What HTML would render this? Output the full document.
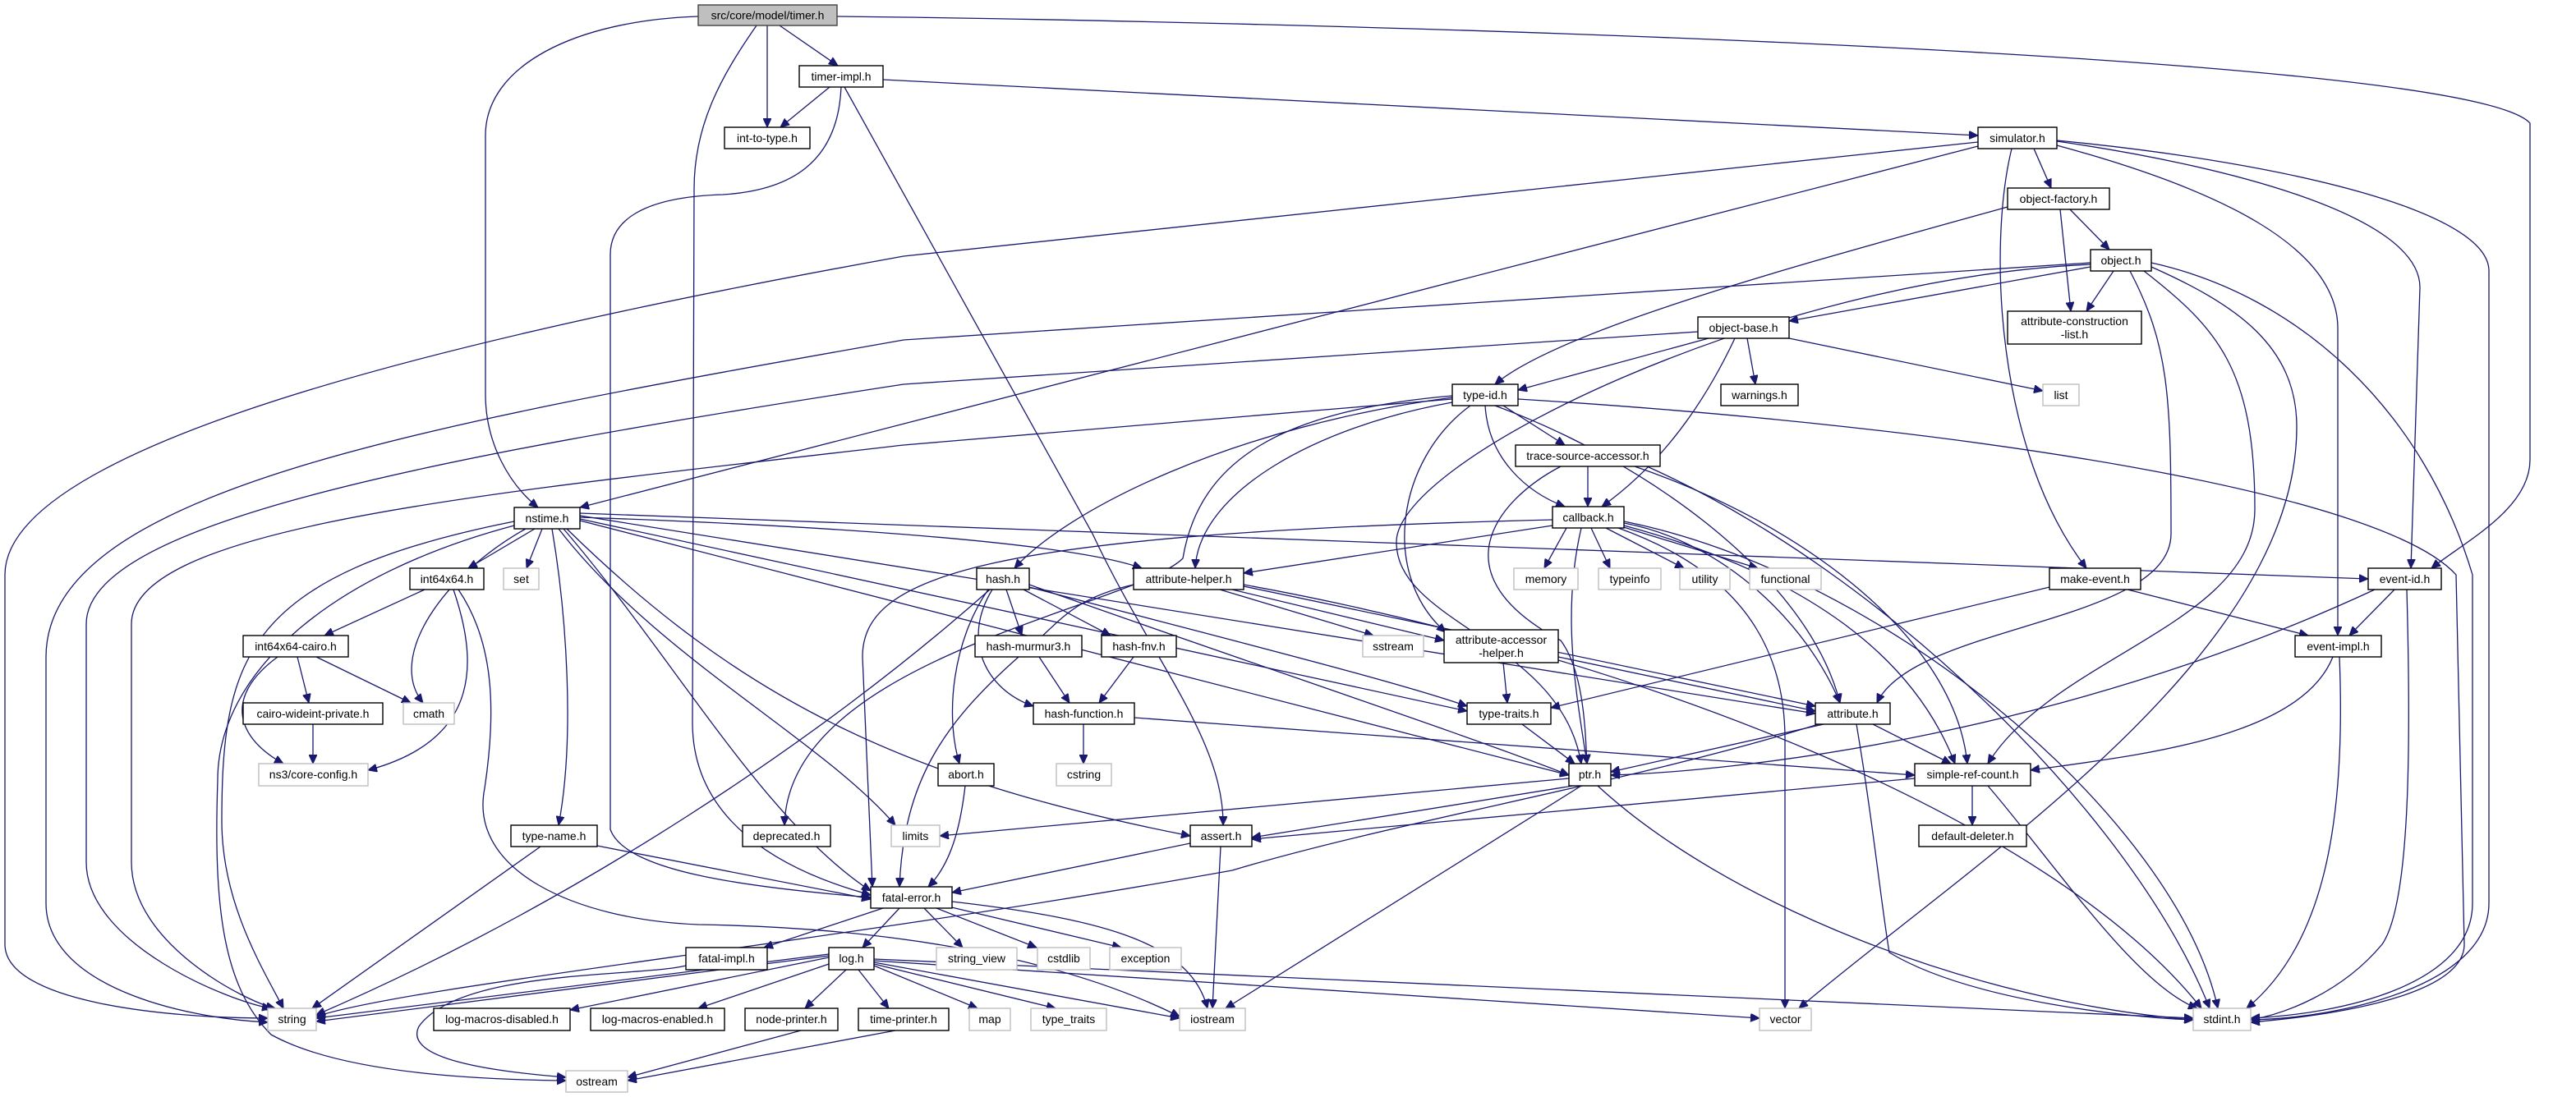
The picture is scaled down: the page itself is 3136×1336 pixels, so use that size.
<!DOCTYPE html>
<html><head><meta charset="utf-8"><style>
html,body{margin:0;padding:0;background:#fff;}
svg{display:block;}
text{font-family:"Liberation Sans",sans-serif;font-size:14px;fill:#000;text-anchor:middle;}
.e{fill:none;stroke:#191970;stroke-width:1.3;marker-end:url(#a);}
.n{fill:#fff;stroke:#000;stroke-width:1.4;}
.g{fill:#fff;stroke:#bfbfbf;stroke-width:1.4;}
</style></head><body>
<svg width="3136" height="1336" viewBox="0 0 3136 1336" xmlns="http://www.w3.org/2000/svg">
<defs><marker id="a" markerUnits="userSpaceOnUse" markerWidth="12" markerHeight="10" refX="11" refY="5" orient="auto"><path d="M0,0 L11,5 L0,10 z" fill="#191970" stroke="#191970"/></marker></defs>
<g>
<path class="e" d="M934,31 L934,155"/>
<path class="e" d="M949,31 L1020,80"/>
<path class="e" d="M850,20 C700,25 591,80 591,165 L591,480 C591,540 620,590 655,618"/>
<path class="e" d="M921,31 C880,90 845,150 845,230 L843,880 C843,1000 950,1060 1060,1090"/>
<path class="e" d="M1019,20 C1500,25 3000,60 3080,150 L3080,560 C3080,620 3000,660 2960,692"/>
<path class="e" d="M1010,106 L950,155"/>
<path class="e" d="M1075,97 L2408,165"/>
<path class="e" d="M1024,106 C1020,200 960,232 880,237 C780,240 743,270 743,310 L743,1010 C760,1060 900,1080 1060,1093"/>
<path class="e" d="M1028,106 L1330,650 C1400,800 1490,900 1489,1005"/>
<path class="e" d="M2476,181 L2497,229"/>
<path class="e" d="M2408,178 L706,618"/>
<path class="e" d="M2408,173 L1100,312 C500,420 6,550 6,700 L6,1150 C6,1220 200,1240 326,1240"/>
<path class="e" d="M2449,181 C2420,300 2430,550 2540,692"/>
<path class="e" d="M2504,177 C2700,230 2846,300 2846,400 L2846,774"/>
<path class="e" d="M2504,172 C2700,200 2946,260 2946,350 L2935,692"/>
<path class="e" d="M2504,171 C2800,200 3030,260 3030,330 L3030,1100 C3030,1200 2850,1240 2740,1242"/>
<path class="e" d="M2444,252 C2200,320 1900,400 1820,468"/>
<path class="e" d="M2520,255 L2568,304"/>
<path class="e" d="M2508,255 L2521,379"/>
<path class="e" d="M2545,325 L2178,391"/>
<path class="e" d="M2573,330 L2540,379"/>
<path class="e" d="M2545,320 L1100,414 C500,520 56,600 56,800 L56,1100 C56,1200 220,1240 326,1245"/>
<path class="e" d="M2545,322 C2150,340 1700,560 1700,660 C1700,760 1900,780 1925,930"/>
<path class="e" d="M2593,330 C2640,420 2643,480 2643,650 C2643,760 2330,760 2285,856"/>
<path class="e" d="M2610,330 C2700,400 2745,450 2745,620 C2745,760 2500,800 2420,930"/>
<path class="e" d="M2619,325 C2720,370 2796,420 2796,520 C2796,800 2400,1050 2190,1228"/>
<path class="e" d="M2619,320 C2800,360 2950,500 3010,700 L3010,1100 C3010,1200 2850,1235 2740,1240"/>
<path class="e" d="M2080,412 L1848,475"/>
<path class="e" d="M2127,412 L2137,468"/>
<path class="e" d="M2178,412 L2487,476"/>
<path class="e" d="M2112,412 C2080,480 2030,560 1950,617"/>
<path class="e" d="M2067,404 L1100,468 C500,560 105,640 105,760 L105,1050 C105,1150 280,1220 330,1228"/>
<path class="e" d="M1830,494 L1905,542"/>
<path class="e" d="M1808,494 C1812,560 1860,600 1905,617"/>
<path class="e" d="M1768,484 C1500,520 1300,620 1235,692"/>
<path class="e" d="M1768,490 C1600,520 1460,600 1455,692"/>
<path class="e" d="M1768,482 C1560,500 1460,560 1440,680 C1380,740 960,800 955,1005"/>
<path class="e" d="M1768,486 L1100,542 C600,600 160,640 160,760 L160,1050 C160,1150 300,1220 335,1228"/>
<path class="e" d="M1790,494 C1700,560 1680,700 1760,770"/>
<path class="e" d="M1820,494 C2000,560 2200,700 2240,856"/>
<path class="e" d="M1848,486 C2400,520 2900,600 2990,700 L3000,1150 C3000,1220 2800,1240 2740,1245"/>
<path class="e" d="M1933,568 L1933,617"/>
<path class="e" d="M1900,568 C1820,610 1750,700 1900,780 C1930,820 1930,900 1932,930"/>
<path class="e" d="M1990,568 C2200,640 2380,780 2395,930"/>
<path class="e" d="M2005,568 C2300,700 2600,1000 2690,1228"/>
<path class="e" d="M1907,643 L1880,692"/>
<path class="e" d="M1937,643 L1960,692"/>
<path class="e" d="M1955,643 L2050,692"/>
<path class="e" d="M1970,640 L2140,692"/>
<path class="e" d="M1890,640 L1514,698"/>
<path class="e" d="M1890,633 C1200,650 1050,700 1050,800 L1062,1080"/>
<path class="e" d="M1977,637 C2100,660 2200,760 2240,856"/>
<path class="e" d="M1925,643 C1900,750 1920,850 1932,930"/>
<path class="e" d="M1977,640 C2200,700 2330,800 2380,930"/>
<path class="e" d="M1970,643 C2130,700 2173,800 2173,900 L2173,1228"/>
<path class="e" d="M1977,635 C2300,700 2650,1000 2700,1228"/>
<path class="e" d="M651,644 L570,692"/>
<path class="e" d="M660,644 L641,692"/>
<path class="e" d="M672,644 C690,750 700,900 680,1005"/>
<path class="e" d="M640,644 C540,700 470,800 515,856"/>
<path class="e" d="M626,635 C300,700 270,800 270,1000 C270,1100 320,1180 345,1228"/>
<path class="e" d="M626,640 C400,700 265,820 265,950 C260,1100 270,1200 330,1260 C420,1310 600,1315 689,1316"/>
<path class="e" d="M680,644 C800,800 1000,900 1090,1005"/>
<path class="e" d="M690,644 C900,850 1100,950 1449,1018"/>
<path class="e" d="M686,644 C820,800 930,1000 1060,1085"/>
<path class="e" d="M706,630 C1000,640 1300,660 1390,692"/>
<path class="e" d="M706,625 L2883,705"/>
<path class="e" d="M706,628 L2210,869"/>
<path class="e" d="M706,632 L1786,866"/>
<path class="e" d="M706,634 L1910,944"/>
<path class="e" d="M517,718 L395,774"/>
<path class="e" d="M552,718 C580,800 590,900 448,938"/>
<path class="e" d="M558,718 C600,780 605,860 590,960 C570,1060 700,1120 850,1126 C1100,1130 1300,1170 1436,1238"/>
<path class="e" d="M362,800 L376,856"/>
<path class="e" d="M385,800 L500,856"/>
<path class="e" d="M338,800 C270,850 290,900 345,930"/>
<path class="e" d="M381,882 L381,930"/>
<path class="e" d="M727,1030 L1060,1095"/>
<path class="e" d="M658,1031 L380,1228"/>
<path class="e" d="M1225,718 L1244,774"/>
<path class="e" d="M1246,718 L1352,774"/>
<path class="e" d="M1208,718 C1170,780 1200,840 1258,860"/>
<path class="e" d="M1205,718 C1000,900 700,1100 385,1236"/>
<path class="e" d="M1253,712 C1500,800 1800,900 1910,944"/>
<path class="e" d="M1253,715 C1500,780 1700,830 1786,860"/>
<path class="e" d="M1203,718 C1160,780 1150,870 1168,930"/>
<path class="e" d="M1265,800 L1302,856"/>
<path class="e" d="M1380,800 L1338,856"/>
<path class="e" d="M1319,882 L1319,930"/>
<path class="e" d="M1381,874 L2331,944"/>
<path class="e" d="M1485,718 L1672,774"/>
<path class="e" d="M1500,718 L1758,780"/>
<path class="e" d="M1514,714 L2210,860"/>
<path class="e" d="M1380,712 C1300,730 1290,760 1240,800 C1150,880 1100,950 1095,1080"/>
<path class="e" d="M1514,712 C2000,800 2500,1000 2680,1228"/>
<path class="e" d="M1830,807 L1835,856"/>
<path class="e" d="M1897,800 L2210,866"/>
<path class="e" d="M1853,882 L1917,930"/>
<path class="e" d="M2495,715 L1888,862"/>
<path class="e" d="M2590,718 L2810,774"/>
<path class="e" d="M2915,718 L2860,774"/>
<path class="e" d="M2891,718 C2500,900 2100,940 1961,944"/>
<path class="e" d="M2930,718 C2935,900 2935,1100 2900,1150 C2850,1210 2780,1235 2740,1242"/>
<path class="e" d="M2840,800 C2800,900 2600,920 2472,938"/>
<path class="e" d="M2848,800 C2856,1000 2830,1150 2735,1228"/>
<path class="e" d="M2280,882 L2375,930"/>
<path class="e" d="M2220,882 L1961,940"/>
<path class="e" d="M2220,880 C2000,950 1700,1000 1500,1060 C1000,1150 500,1200 385,1238"/>
<path class="e" d="M2260,882 C2280,1000 2290,1100 2300,1160 C2400,1220 2600,1240 2670,1242"/>
<path class="e" d="M1915,957 L1524,1020"/>
<path class="e" d="M1910,948 L1144,1018"/>
<path class="e" d="M1925,957 L1492,1228"/>
<path class="e" d="M1945,957 C2100,1100 2400,1220 2670,1242"/>
<path class="e" d="M2401,957 L2401,1005"/>
<path class="e" d="M2331,948 L1524,1022"/>
<path class="e" d="M2420,957 C2500,1050 2600,1200 2675,1228"/>
<path class="e" d="M1449,1027 L1159,1087"/>
<path class="e" d="M1486,1031 L1476,1228"/>
<path class="e" d="M1175,957 C1170,1000 1160,1050 1130,1080"/>
<path class="e" d="M1075,1106 L930,1154"/>
<path class="e" d="M1095,1106 L1050,1154"/>
<path class="e" d="M1125,1106 L1172,1154"/>
<path class="e" d="M1140,1106 L1262,1154"/>
<path class="e" d="M1150,1103 L1365,1154"/>
<path class="e" d="M1159,1098 C1350,1120 1450,1150 1470,1228"/>
<path class="e" d="M835,1176 C780,1190 560,1180 510,1250 C490,1290 600,1305 689,1312"/>
<path class="e" d="M1009,1162 L385,1240"/>
<path class="e" d="M1009,1164 L385,1244"/>
<path class="e" d="M1009,1166 L694,1230"/>
<path class="e" d="M1015,1172 L850,1228"/>
<path class="e" d="M1030,1181 L980,1228"/>
<path class="e" d="M1045,1181 L1082,1228"/>
<path class="e" d="M1064,1176 L1190,1228"/>
<path class="e" d="M1064,1174 L1285,1228"/>
<path class="e" d="M1064,1172 L1436,1240"/>
<path class="e" d="M1064,1170 L2142,1240"/>
<path class="e" d="M1064,1168 L2670,1240"/>
<path class="e" d="M975,1255 L764,1312"/>
<path class="e" d="M1090,1255 L764,1316"/>
</g>
<g>
<rect x="850" y="6" width="169" height="25" fill="#bfbfbf" stroke="#404040" stroke-width="1.4"/><text x="934.5" y="23.5">src/core/model/timer.h</text>
<rect class="n" x="973" y="80" width="102" height="26"/><text x="1024" y="98">timer-impl.h</text>
<rect class="n" x="882" y="155" width="104" height="26"/><text x="934" y="173">int-to-type.h</text>
<rect class="n" x="2408" y="155" width="96" height="26"/><text x="2456" y="173">simulator.h</text>
<rect class="n" x="2444" y="229" width="124" height="26"/><text x="2506" y="247">object-factory.h</text>
<rect class="n" x="2545" y="304" width="74" height="26"/><text x="2582" y="322">object.h</text>
<rect class="n" x="2444" y="379" width="163" height="40"/><text x="2525.5" y="396">attribute-construction</text><text x="2525.5" y="412">-list.h</text>
<rect class="n" x="2067" y="386" width="111" height="26"/><text x="2122.5" y="404">object-base.h</text>
<rect class="n" x="2095" y="468" width="94" height="26"/><text x="2142" y="486">warnings.h</text>
<rect class="g" x="2487" y="468" width="44" height="26"/><text x="2509" y="486">list</text>
<rect class="n" x="1768" y="468" width="80" height="26"/><text x="1808" y="486">type-id.h</text>
<rect class="n" x="1845" y="542" width="176" height="26"/><text x="1933" y="560">trace-source-accessor.h</text>
<rect class="n" x="1890" y="617" width="87" height="26"/><text x="1933.5" y="635">callback.h</text>
<rect class="n" x="626" y="618" width="80" height="26"/><text x="666" y="636">nstime.h</text>
<rect class="n" x="499" y="692" width="90" height="26"/><text x="544" y="710">int64x64.h</text>
<rect class="g" x="613" y="692" width="43" height="26"/><text x="634.5" y="710">set</text>
<rect class="n" x="1189" y="692" width="64" height="26"/><text x="1221" y="710">hash.h</text>
<rect class="n" x="1380" y="692" width="134" height="26"/><text x="1447" y="710">attribute-helper.h</text>
<rect class="g" x="1843" y="692" width="78" height="26"/><text x="1882" y="710">memory</text>
<rect class="g" x="1946" y="692" width="76" height="26"/><text x="1984" y="710">typeinfo</text>
<rect class="g" x="2045" y="692" width="61" height="26"/><text x="2075.5" y="710">utility</text>
<rect class="g" x="2130" y="692" width="87" height="26"/><text x="2173.5" y="710">functional</text>
<rect class="n" x="2495" y="692" width="111" height="26"/><text x="2550.5" y="710">make-event.h</text>
<rect class="n" x="2883" y="692" width="89" height="26"/><text x="2927.5" y="710">event-id.h</text>
<rect class="n" x="296" y="774" width="128" height="26"/><text x="360" y="792">int64x64-cairo.h</text>
<rect class="n" x="1187" y="774" width="130" height="26"/><text x="1252" y="792">hash-murmur3.h</text>
<rect class="n" x="1341" y="774" width="91" height="26"/><text x="1386.5" y="792">hash-fnv.h</text>
<rect class="g" x="1659" y="774" width="74" height="26"/><text x="1696" y="792">sstream</text>
<rect class="n" x="1758" y="767" width="139" height="40"/><text x="1827.5" y="784">attribute-accessor</text><text x="1827.5" y="800">-helper.h</text>
<rect class="n" x="2794" y="774" width="105" height="26"/><text x="2846.5" y="792">event-impl.h</text>
<rect class="n" x="296" y="856" width="170" height="26"/><text x="381" y="874">cairo-wideint-private.h</text>
<rect class="g" x="491" y="856" width="62" height="26"/><text x="522" y="874">cmath</text>
<rect class="n" x="1258" y="856" width="123" height="26"/><text x="1319.5" y="874">hash-function.h</text>
<rect class="n" x="1786" y="856" width="102" height="26"/><text x="1837" y="874">type-traits.h</text>
<rect class="n" x="2210" y="856" width="91" height="26"/><text x="2255.5" y="874">attribute.h</text>
<rect class="g" x="315" y="930" width="133" height="27"/><text x="381.5" y="948">ns3/core-config.h</text>
<rect class="n" x="1142" y="930" width="68" height="27"/><text x="1176" y="948">abort.h</text>
<rect class="g" x="1286" y="930" width="67" height="27"/><text x="1319.5" y="948">cstring</text>
<rect class="n" x="1910" y="930" width="51" height="27"/><text x="1935.5" y="948">ptr.h</text>
<rect class="n" x="2331" y="930" width="141" height="27"/><text x="2401.5" y="948">simple-ref-count.h</text>
<rect class="n" x="622" y="1005" width="105" height="26"/><text x="674.5" y="1023">type-name.h</text>
<rect class="n" x="904" y="1005" width="107" height="26"/><text x="957.5" y="1023">deprecated.h</text>
<rect class="g" x="1085" y="1005" width="59" height="26"/><text x="1114.5" y="1023">limits</text>
<rect class="n" x="1449" y="1005" width="75" height="26"/><text x="1486.5" y="1023">assert.h</text>
<rect class="n" x="2336" y="1005" width="131" height="26"/><text x="2401.5" y="1023">default-deleter.h</text>
<rect class="n" x="1060" y="1080" width="99" height="26"/><text x="1109.5" y="1098">fatal-error.h</text>
<rect class="n" x="835" y="1154" width="99" height="27"/><text x="884.5" y="1172">fatal-impl.h</text>
<rect class="n" x="1009" y="1154" width="55" height="27"/><text x="1036.5" y="1172">log.h</text>
<rect class="g" x="1140" y="1154" width="98" height="27"/><text x="1189" y="1172">string_view</text>
<rect class="g" x="1263" y="1154" width="64" height="27"/><text x="1295" y="1172">cstdlib</text>
<rect class="g" x="1351" y="1154" width="87" height="27"/><text x="1394.5" y="1172">exception</text>
<rect class="g" x="326" y="1228" width="59" height="27"/><text x="355.5" y="1246">string</text>
<rect class="n" x="528" y="1228" width="166" height="27"/><text x="611" y="1246">log-macros-disabled.h</text>
<rect class="n" x="719" y="1228" width="163" height="27"/><text x="800.5" y="1246">log-macros-enabled.h</text>
<rect class="n" x="907" y="1228" width="113" height="27"/><text x="963.5" y="1246">node-printer.h</text>
<rect class="n" x="1045" y="1228" width="110" height="27"/><text x="1100" y="1246">time-printer.h</text>
<rect class="g" x="1180" y="1228" width="50" height="27"/><text x="1205" y="1246">map</text>
<rect class="g" x="1255" y="1228" width="92" height="27"/><text x="1301" y="1246">type_traits</text>
<rect class="g" x="1436" y="1228" width="80" height="27"/><text x="1476" y="1246">iostream</text>
<rect class="g" x="2142" y="1228" width="63" height="27"/><text x="2173.5" y="1246">vector</text>
<rect class="g" x="2670" y="1228" width="70" height="27"/><text x="2705" y="1246">stdint.h</text>
<rect class="g" x="689" y="1304" width="75" height="26"/><text x="726.5" y="1322">ostream</text>
</g>
</svg>
</body></html>
